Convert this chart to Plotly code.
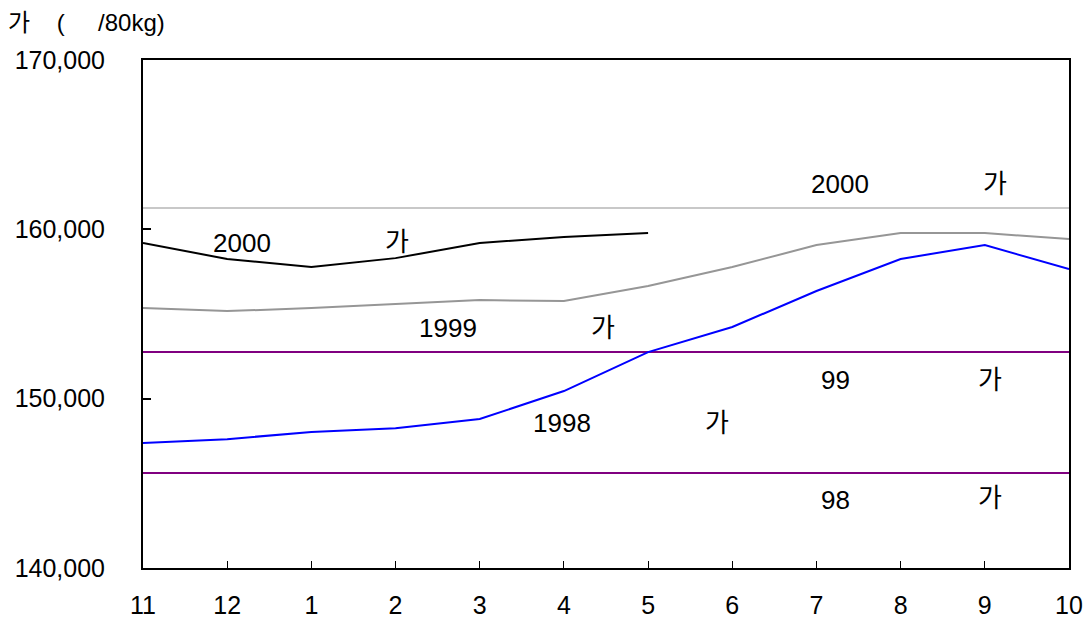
import plotly.graph_objects as go

months = ["11", "12", "1", "2", "3", "4", "5", "6", "7", "8", "9", "10"]
price_2000 = [159190, 158250, 157770, 158300, 159190, 159550, 159780]
price_1999 = [155350, 155170, 155350, 155590, 155820, 155770, 156650, 157770, 159070, 159780, 159780, 159430]
price_1998 = [147380, 147610, 148030, 148260, 148800, 150450, 152750, 154230, 156360, 158250, 159070, 157650]
ref_2000 = 161260
ref_99 = 152750
ref_98 = 145610
y_ticks = [140000, 150000, 160000, 170000]

labels = [
    ("2000", 1.18, 159190), ("가", 3.02, 159250),
    ("2000", 8.28, 162680), ("가", 10.12, 162680),
    ("1999", 3.62, 154170), ("가", 5.46, 154170),
    ("99", 8.23, 151100), ("가", 10.06, 151100),
    ("1998", 4.98, 148560), ("가", 6.82, 148560),
    ("98", 8.23, 144010), ("가", 10.06, 144130),
]

xi = list(range(len(months)))
FONT = "Liberation Sans, Arial, Noto Sans CJK KR, sans-serif"

fig = go.Figure()
for val, col in [(ref_2000, "#c8c8c8"), (ref_99, "#800080"), (ref_98, "#800080")]:
    fig.add_trace(go.Scatter(x=[xi[0], xi[-1]], y=[val, val], mode="lines",
                             line=dict(color=col, width=2), hoverinfo="skip"))
fig.add_trace(go.Scatter(x=xi, y=price_1999, mode="lines", line=dict(color="#969696", width=2)))
fig.add_trace(go.Scatter(x=xi, y=price_1998, mode="lines", line=dict(color="#0000ff", width=2)))
fig.add_trace(go.Scatter(x=xi[:len(price_2000)], y=price_2000, mode="lines", line=dict(color="#000000", width=2)))

for t, x, y in labels:
    fig.add_annotation(x=x, y=y, text=t, showarrow=False, xref="x", yref="y",
                       font=dict(size=26, color="#000000", family=FONT))

fig.add_annotation(x=-0.1478, y=1.0748, xref="paper", yref="paper",
                   text="가&nbsp;&nbsp;&nbsp;&nbsp;(&nbsp;&nbsp;&nbsp;&nbsp;&nbsp;/80kg)",
                   showarrow=False, xanchor="left", yanchor="middle",
                   font=dict(size=24, color="#000000", family=FONT))

fig.update_layout(
    width=1086, height=621, showlegend=False,
    paper_bgcolor="white", plot_bgcolor="white",
    margin=dict(l=143, r=17, t=60, b=53),
    font=dict(family=FONT, size=25, color="#000000"),
    xaxis=dict(range=[0, 11], tickvals=xi, ticktext=months, showgrid=False, zeroline=False,
               showline=True, linecolor="black", linewidth=2, mirror=True,
               ticks="inside", ticklen=7, tickcolor="black", tickwidth=1,
               ticklabelstandoff=14, automargin=False),
    yaxis=dict(range=[140000, 170000], tickvals=y_ticks, tickformat=",", showgrid=False,
               zeroline=False, showline=True, linecolor="black", linewidth=2, mirror=True,
               ticks="inside", ticklen=8, tickcolor="black", tickwidth=2,
               ticklabelstandoff=31, automargin=False),
)

fig.write_html(
    "out.html",
    config={"displayModeBar": False},
    post_script="document.body.style.margin='0';document.body.style.overflow='hidden';"
                "document.documentElement.style.overflow='hidden';",
)
